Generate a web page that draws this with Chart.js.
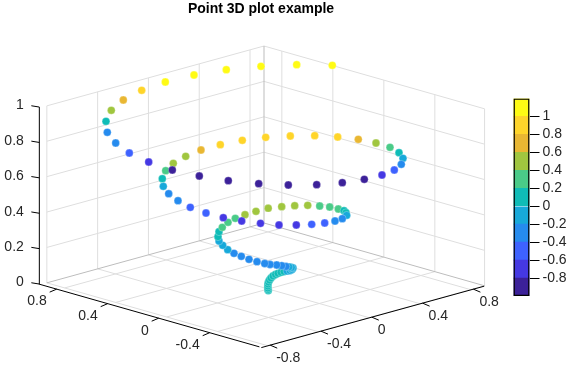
<!DOCTYPE html>
<html><head><meta charset="utf-8">
<style>html,body{margin:0;padding:0;background:#fff;width:573px;height:374px;overflow:hidden}
canvas{position:absolute;top:0}#main{left:0}#bar{left:500px}</style>
<script src="https://cdn.jsdelivr.net/npm/chart.js@4/dist/chart.umd.min.js"></script>
</head><body>
<canvas id="main" width="522" height="374"></canvas>
<canvas id="bar" width="73" height="374"></canvas>
<script>
const titleText = "Point 3D plot example";
const axisATicks = [-0.8,-0.4,0,0.4,0.8];
const axisBTicks = [-0.8,-0.4,0,0.4,0.8];
const axisBLabelled = [-0.4,0,0.4,0.8];
const axisZTicks = [0,0.2,0.4,0.6,0.8,1];
const colorLevels = [-1,-0.8,-0.6,-0.4,-0.2,0,0.2,0.4,0.6,0.8,1,1.2];
const levelColors = ["#3c2199","#4538e3","#3e62ff","#258bee","#17a9da","#0fbcb7","#4acb88","#a0c63f","#e9b732","#ffd52a","#fffb14"];
// helix points
const pointH = [332.3,296.7,261,226.3,194,165.3,141.7,123.3,111.3,106,107.3,115.7,129.3,148.7,172.3,199.3,228.3,258.7,288.3,316.7,342.3,364.3,382,394.3,401.3,403,399,390,376,358.3,337.7,314.7,290.3,265.7,242.3,220.3,201,185.7,173.3,165.7,162.3,163.3,168.7,178,190.3,206,223.3,241.7,260.5,279,296.3,311.7,324.7,335,342.3,346.7,346,344,338.3,329.7,319.7,307.7,294.7,281.7,268.2,256,245,235.3,228,222.3,219,218,219,222.7,227.7,234,241.3,249,257,264.7,270,276.7,281.7,286,289,291.5,293,292,290,287,284,281,278,275.5,273,271,269.5,268.5,268,267.8,267.8,268,268.3];
const pointV = [65.3,64.7,66.3,69.7,75,82,90.3,100,110.3,121.3,132.3,143,153,162,170,176,180.7,183.7,185,184.7,182.7,179.3,175,170,164.3,158.3,152.7,147.3,143,139.3,137,135.7,136,137.3,140.3,144.7,150,156.3,163.3,170.7,178.7,186.3,193.7,200.7,207.3,213,217.7,221,223.3,225,225,224.3,223,221,218.7,215.3,212.7,210.7,209,207,206,205.3,205.7,206.7,208.2,211.3,214.7,218.3,222.3,227.3,231.7,236.7,241,245.3,249.7,253.3,256.3,259.3,261.7,263.5,264.5,265,265.7,266.5,267,267.5,268,269.5,270.5,271,271.5,272.3,273.3,274.5,276,278,280,282,284,286,288,289.5,290.5];
const pointValues = [1.1,1.1,1.1,1.1,1.1,1.1,0.9,0.7,0.5,0.1,-0.3,-0.3,-0.5,-0.7,-0.9,-0.9,-0.9,-0.9,-0.9,-0.9,-0.9,-0.9,-0.7,-0.5,-0.3,-0.1,0.1,0.3,0.5,0.7,0.9,0.9,0.9,0.9,0.9,0.9,0.7,0.5,0.5,0.3,0.1,-0.1,-0.3,-0.3,-0.5,-0.5,-0.7,-0.7,-0.7,-0.7,-0.7,-0.5,-0.5,-0.3,-0.3,-0.1,0.1,0.1,0.3,0.3,0.3,0.5,0.5,0.5,0.5,0.5,0.5,0.3,0.3,0.3,0.1,0.1,-0.1,-0.1,-0.1,-0.3,-0.3,-0.3,-0.3,-0.3,-0.3,-0.3,-0.3,-0.3,-0.1,-0.1,-0.1,-0.1,-0.1,-0.1,0.1,0.1,0.1,0.1,0.1,0.1,0.1,0.1,0.1,0.1,0.1,0.1,0.1];

// orthographic view of the box
const aBack=0.91,bBack=0.94,aMin=-0.8,bMin=-0.79;
function project(a,b,z){
  return {x:264-(aBack-a)*127+(bBack-b)*127.5, y:223+(aBack-a)*35+(bBack-b)*36.3-177*z};
}
function shift(p,dx,dy){return {x:p.x+dx,y:p.y+dy};}
const gap={x:null,y:null};
const gridSeg=[],edgeSeg=[],axisSeg=[];
function seg(list,p,q){list.push(p,q,gap);}
const clampB=b=>Math.max(b,bMin);
// walls and floor
axisATicks.forEach(a=>{
  seg(gridSeg,project(a,bBack,0),project(a,bBack,1));
  seg(gridSeg,project(a,bBack,0),project(a,bMin,0));
});
axisBTicks.forEach(b=>{
  const c=clampB(b);
  seg(gridSeg,project(aBack,c,0),project(aBack,c,1));
  seg(gridSeg,project(aBack,c,0),project(aMin,c,0));
});
axisZTicks.forEach(z=>{
  if(z>0){seg(gridSeg,project(aMin,bBack,z),project(aBack,bBack,z));
  seg(gridSeg,project(aBack,bBack,z),project(aBack,bMin,z));}
});
seg(edgeSeg,project(aBack,bBack,0),project(aBack,bBack,1));
seg(edgeSeg,project(aMin,bBack,0),project(aBack,bBack,0));
seg(edgeSeg,project(aBack,bBack,0),project(aBack,bMin,0));
// axes, offset from the box
const zOff=[-7.5,1.2],bOff=[-8,1.2],aOff=[2.8,-0.5];
const zPos=z=>shift(project(aMin,bBack,z),zOff[0],zOff[1]);
const bPos=b=>shift(project(aMin,b,0),bOff[0],bOff[1]);
const aPos=a=>shift(project(a,bMin,0),aOff[0],aOff[1]);
seg(axisSeg,zPos(0),zPos(1));
seg(axisSeg,bPos(bBack),bPos(bMin));
seg(axisSeg,aPos(-0.87),aPos(0.885));
axisZTicks.forEach(z=>{const p=zPos(z);seg(axisSeg,p,shift(p,-8,-1.3));});
axisBLabelled.forEach(b=>{const p=bPos(b);seg(axisSeg,p,shift(p,-7,3));});
axisATicks.forEach(a=>{const p=aPos(a);seg(axisSeg,p,shift(p,7,3));});

const colorFor=v=>{for(let i=0;i<levelColors.length;i++){if(v<colorLevels[i+1])return levelColors[i];}return levelColors[levelColors.length-1];};
const fmt=v=>{const r=Math.round(v*10)/10;return r===0?"0":String(r);};
const FONT='"Liberation Sans", Arial, sans-serif';
const TEXT='#262626';

const tickLabels={id:'tickLabels',afterDatasetsDraw(c){
  const {ctx,scales:{x,y}}=c;
  ctx.save();ctx.font='14px '+FONT;ctx.fillStyle=TEXT;ctx.textBaseline='middle';
  const put=(p,dx,dy,t,al)=>{ctx.textAlign=al;ctx.fillText(t,x.getPixelForValue(p.x+dx),y.getPixelForValue(p.y+dy));};
  axisZTicks.forEach(z=>put(zPos(z),-15.5,-1.5,fmt(z),'right'));
  axisBLabelled.forEach(b=>put(bPos(b),-10,12.5,fmt(b),'right'));
  axisATicks.forEach(a=>put(aPos(a),6,12.5,fmt(a),'left'));
  ctx.restore();
}};

// drawn bottom of the spiral first, so the upper turns lie on top
new Chart(document.getElementById('main'),{
  type:'scatter',
  data:{datasets:[
    {data:pointH.map((h,i)=>({x:h,y:pointV[i]})).reverse(),showLine:false,order:0,pointRadius:3.9,pointHoverRadius:3.9,
     pointBackgroundColor:pointValues.map(colorFor).reverse(),pointBorderColor:'rgba(255,255,255,0.55)',pointBorderWidth:0.5},
    {data:axisSeg,showLine:true,spanGaps:false,order:1,pointRadius:0,borderColor:'#000',borderWidth:1},
    {data:edgeSeg,showLine:true,spanGaps:false,order:2,pointRadius:0,borderColor:'#bdbdbd',borderWidth:1},
    {data:gridSeg,showLine:true,spanGaps:false,order:3,pointRadius:0,borderColor:'#dedede',borderWidth:1}
  ]},
  options:{responsive:false,animation:false,events:[],
    layout:{padding:0,autoPadding:false},
    scales:{x:{type:'linear',display:false,min:0,max:522},y:{type:'linear',display:false,min:20,max:374,reverse:true}},
    plugins:{legend:{display:false},tooltip:{enabled:false},
      title:{display:true,text:titleText,color:'#000',font:{family:FONT,size:14,weight:'bold',lineHeight:1.2},padding:{top:1,bottom:2.2}}}
  },
  plugins:[tickLabels]
});

const barSets=levelColors.map((col,i)=>({data:[[colorLevels[i],colorLevels[i+1]]],backgroundColor:col,borderWidth:0,grouped:false,barPercentage:1,categoryPercentage:1,order:2}));
barSets.push({data:[[colorLevels[0],colorLevels[colorLevels.length-1]]],backgroundColor:'rgba(0,0,0,0)',borderColor:'#000',borderWidth:1,borderSkipped:false,grouped:false,barPercentage:1,categoryPercentage:1,order:1});
const inner=v=>{const r=Math.round(v*10)/10;return r>-1&&r<1.2;};
new Chart(document.getElementById('bar'),{
  type:'bar',
  data:{labels:['c'],datasets:barSets},
  options:{responsive:false,animation:false,events:[],
    layout:{padding:{left:13.5,top:98.5,bottom:78,right:0},autoPadding:false},
    scales:{
      x:{display:false},
      y:{position:'right',min:-1,max:1.2,
        afterFit(s){s.width=43.5;},
        border:{display:false},
        grid:{drawOnChartArea:false,drawTicks:true,tickLength:10,tickColor:ctx=>inner(ctx.tick.value)?'#000':'rgba(0,0,0,0)',color:'rgba(0,0,0,0)'},
        ticks:{stepSize:0.2,autoSkip:false,color:TEXT,padding:3,font:{family:FONT,size:14},
          callback(v){const r=Math.round(v*10)/10;return inner(r)?fmt(r):'';}}
      }
    },
    plugins:{legend:{display:false},tooltip:{enabled:false}}
  }
});
</script>
</body></html>
